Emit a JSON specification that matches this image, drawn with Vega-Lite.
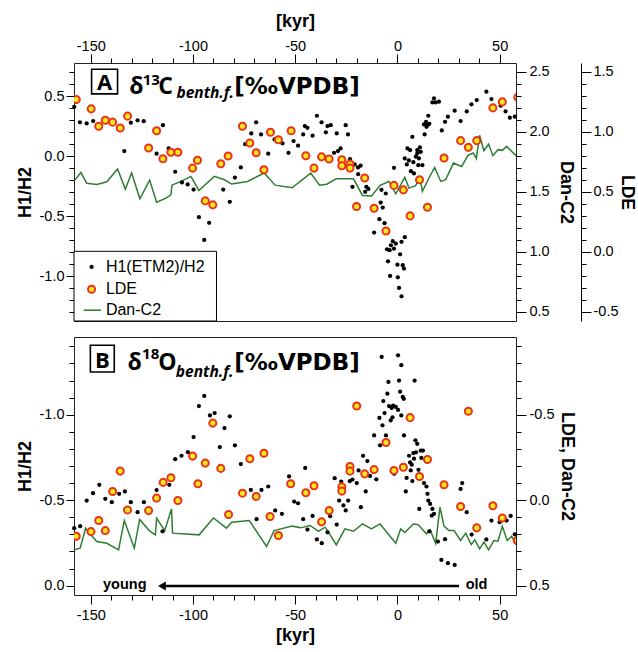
{
"$schema": "https://vega.github.io/schema/vega-lite/v6.json",
"padding": {"left": 15, "top": 11, "right": 0, "bottom": 0},
"background": "white",
"config": {
  "view": {"stroke": "#222", "strokeWidth": 1},
  "font": "Liberation Sans",
  "axis": {"domain": false, "grid": false, "tickColor": "#000", "tickWidth": 1, "labelFont": "Liberation Sans", "labelFontSize": 14.5, "labelColor": "#000", "titleFont": "Liberation Sans", "titleFontSize": 18, "titleFontWeight": "bold", "titleColor": "#000", "labelFlush": false, "labelOverlap": false},
  "locale": {"number": {"decimal": ".", "thousands": ",", "grouping": [3], "currency": ["$", ""], "minus": "-"}}
},
"datasets": {
  "tH1": [
    {"kyr":-158.1,"h1":0.41},{"kyr":-155.3,"h1":0.281},{"kyr":-152,"h1":0.272},{"kyr":-148.8,"h1":0.292},{"kyr":-133.6,"h1":0.042},{"kyr":-130.4,"h1":0.278},{"kyr":-127.1,"h1":0.298},{"kyr":-124.1,"h1":0.291},{"kyr":-117.8,"h1":0.02},{"kyr":-114.7,"h1":0.258},{"kyr":-111.9,"h1":0.064},{"kyr":-108.7,"h1":-0.13},{"kyr":-105.4,"h1":-0.219},{"kyr":-102.6,"h1":-0.236},{"kyr":-99.7,"h1":-0.278},{"kyr":-97.1,"h1":-0.508},{"kyr":-94.5,"h1":-0.697},{"kyr":-92.1,"h1":-0.555},{"kyr":-85.2,"h1":-0.278},{"kyr":-82,"h1":-0.38},{"kyr":-79.5,"h1":-0.178},{"kyr":-76.6,"h1":-0.094},{"kyr":-74.5,"h1":0.1},{"kyr":-71.5,"h1":0.189},{"kyr":-69.1,"h1":0.281},{"kyr":-66.7,"h1":0.181},{"kyr":-63.2,"h1":0.02},{"kyr":-60.1,"h1":0.139},{"kyr":-56.2,"h1":0.106},{"kyr":-53.3,"h1":0.028},
    {"kyr":-50.8,"h1":0.125},{"kyr":-48.6,"h1":0.087},{"kyr":-46.1,"h1":0.181},{"kyr":-45.3,"h1":0.25},{"kyr":-44,"h1":0.236},{"kyr":-41.5,"h1":0.17},{"kyr":-39.4,"h1":0.336},{"kyr":-37.1,"h1":0.281},{"kyr":-35,"h1":0.198},{"kyr":-34.2,"h1":0.25},{"kyr":-32.6,"h1":0.258},{"kyr":-29.7,"h1":0.189},{"kyr":-25.3,"h1":0.258},{"kyr":-24.2,"h1":0.181},{"kyr":-31,"h1":0.028},{"kyr":-29.1,"h1":0.042},{"kyr":-27.8,"h1":0.064},{"kyr":-23.2,"h1":-0.025},{"kyr":-20.9,"h1":-0.069},{"kyr":-19.3,"h1":-0.094},{"kyr":-18,"h1":-0.08},{"kyr":-19.2,"h1":-0.15},{"kyr":-22,"h1":-0.255},{"kyr":-15.2,"h1":-0.255},{"kyr":-14.2,"h1":-0.273},{"kyr":-15.8,"h1":-0.297},{"kyr":-7.8,"h1":-0.28},{"kyr":-5.7,"h1":-0.311},{"kyr":-8.2,"h1":-0.386},{"kyr":-7.2,"h1":-0.428},{"kyr":-8.8,"h1":-0.525},{"kyr":-6.3,"h1":-0.558},{"kyr":-11.4,"h1":-0.636},{"kyr":-1.7,"h1":-0.097},{"kyr":-2.3,"h1":-0.708},{"kyr":-0.8,"h1":-0.728},{"kyr":-3.2,"h1":-0.742},{"kyr":-5.1,"h1":-0.775},{"kyr":-3.8,"h1":-0.783},{"kyr":-1.7,"h1":-0.77},{"kyr":1.3,"h1":-0.817},{"kyr":3.6,"h1":-0.675},{"kyr":2,"h1":-0.713},{"kyr":-4.6,"h1":-0.875},{"kyr":0,"h1":-0.903},{"kyr":2.6,"h1":-0.908},{"kyr":3.2,"h1":-0.936},{"kyr":-3.6,"h1":-0.997},{"kyr":0.2,"h1":-1.008},{"kyr":0.8,"h1":-1.097},{"kyr":2,"h1":-1.167},
    {"kyr":3.6,"h1":-0.019},{"kyr":4.6,"h1":-0.069},{"kyr":5.6,"h1":-0.036},{"kyr":6.6,"h1":-0.125},{"kyr":4.9,"h1":0.064},{"kyr":6.2,"h1":0.05},{"kyr":7.3,"h1":0.161},{"kyr":7.8,"h1":-0.05},{"kyr":9,"h1":-0.005},{"kyr":8.1,"h1":-0.144},{"kyr":9.7,"h1":0.022},{"kyr":11,"h1":0.072},{"kyr":10.5,"h1":-0.019},{"kyr":12.2,"h1":-0.075},{"kyr":10.2,"h1":-0.075},{"kyr":11.4,"h1":0.036},{"kyr":9.7,"h1":0.05},{"kyr":13.3,"h1":0.181},{"kyr":13,"h1":0.264},{"kyr":14,"h1":0.286},{"kyr":14.7,"h1":0.258},{"kyr":15.6,"h1":0.269},{"kyr":14.2,"h1":0.244},{"kyr":15.1,"h1":0.336},{"kyr":17.1,"h1":0.447},{"kyr":17.9,"h1":0.481},{"kyr":18.7,"h1":0.447},{"kyr":20.3,"h1":0.453},{"kyr":21.7,"h1":0.214},{"kyr":23.3,"h1":0.286},{"kyr":24.7,"h1":0.328},{"kyr":28,"h1":0.378},{"kyr":30.9,"h1":0.292},{"kyr":33.9,"h1":0.372},{"kyr":36.2,"h1":0.431},{"kyr":38.8,"h1":0.467},{"kyr":43.5,"h1":0.536},{"kyr":46,"h1":0.475},{"kyr":50.5,"h1":0.42},{"kyr":52.9,"h1":0.372},{"kyr":55,"h1":0.32},{"kyr":57.4,"h1":0.328}
  ],
  "tLDE": [
    {"kyr":-157.1,"lde":1.268},{"kyr":-149.8,"lde":1.19},{"kyr":-146.1,"lde":1.045},{"kyr":-142.9,"lde":1.095},{"kyr":-139.3,"lde":1.079},{"kyr":-135.6,"lde":1.031},{"kyr":-132,"lde":1.129},{"kyr":-121.7,"lde":0.864},{"kyr":-117.8,"lde":1.008},{"kyr":-114.7,"lde":0.774},{"kyr":-110.8,"lde":0.828},{"kyr":-107.4,"lde":0.828},{"kyr":-100.2,"lde":0.696},{"kyr":-97.8,"lde":0.761},{"kyr":-94,"lde":0.423},{"kyr":-90.3,"lde":0.39},{"kyr":-86.4,"lde":0.732},{"kyr":-82.8,"lde":0.797},{"kyr":-75.8,"lde":1.045},{"kyr":-72.2,"lde":0.906},{"kyr":-69.1,"lde":0.824},{"kyr":-65.3,"lde":0.682},{"kyr":-62.1,"lde":0.995},{"kyr":-58.2,"lde":0.933},{"kyr":-52,"lde":1.008},{"kyr":-44.8,"lde":0.799},{"kyr":-40.8,"lde":0.696},{"kyr":-37.1,"lde":0.79},{"kyr":-33.4,"lde":0.772},{"kyr":-27.2,"lde":0.766},{"kyr":-27.2,"lde":0.716},{"kyr":-23.2,"lde":0.73},{"kyr":-23.2,"lde":0.696},{"kyr":-20,"lde":0.376},{"kyr":-16,"lde":0.613},{"kyr":-11.4,"lde":0.362},{"kyr":-5.6,"lde":0.172},{"kyr":-1.7,"lde":0.552},{"kyr":2.9,"lde":0.515},{"kyr":6.2,"lde":0.298},{"kyr":10.8,"lde":0.599},{"kyr":14.7,"lde":0.37},{"kyr":22.8,"lde":0.78},{"kyr":30.9,"lde":0.925},{"kyr":34.7,"lde":0.869},{"kyr":38.8,"lde":0.925},{"kyr":46.7,"lde":1.198},{"kyr":51.3,"lde":1.248},{"kyr":58.9,"lde":1.287}
  ],
  "tDan": [
    {"kyr":-158.1,"dan":1.59},{"kyr":-154.8,"dan":1.66},{"kyr":-152,"dan":1.569},{"kyr":-147,"dan":1.56},{"kyr":-142.1,"dan":1.582},{"kyr":-136.9,"dan":1.688},{"kyr":-133.1,"dan":1.521},{"kyr":-130,"dan":1.655},{"kyr":-126,"dan":1.44},{"kyr":-121.2,"dan":1.596},{"kyr":-117.8,"dan":1.412},{"kyr":-113.2,"dan":1.446},{"kyr":-110.8,"dan":1.473},{"kyr":-110.3,"dan":1.554},{"kyr":-105.9,"dan":1.585},{"kyr":-101,"dan":1.627},{"kyr":-97.1,"dan":1.51},{"kyr":-89.6,"dan":1.627},{"kyr":-84.6,"dan":1.599},{"kyr":-81.1,"dan":1.563},{"kyr":-73.3,"dan":1.585},{"kyr":-65.2,"dan":1.655},{"kyr":-59.8,"dan":1.554},{"kyr":-51.5,"dan":1.532},{"kyr":-42.4,"dan":1.654},{"kyr":-38.1,"dan":1.554},{"kyr":-34.6,"dan":1.562},{"kyr":-30,"dan":1.607},{"kyr":-21.5,"dan":1.607},{"kyr":-17.1,"dan":1.468},{"kyr":-12.6,"dan":1.463},{"kyr":-8.5,"dan":1.552},{"kyr":-4.1,"dan":1.585},{"kyr":-0.8,"dan":1.482},{"kyr":3.6,"dan":1.619},{"kyr":5.7,"dan":1.529},{"kyr":8.9,"dan":1.549},{"kyr":11,"dan":1.619},{"kyr":12.2,"dan":1.502},{"kyr":15,"dan":1.599},{"kyr":18.2,"dan":1.702},{"kyr":21.2,"dan":1.585},{"kyr":23.6,"dan":1.599},{"kyr":27.4,"dan":1.738},{"kyr":31.4,"dan":1.71},{"kyr":34.5,"dan":1.803},{"kyr":37.1,"dan":1.822},{"kyr":38.6,"dan":1.775},{"kyr":40.2,"dan":1.97},{"kyr":42.3,"dan":1.841},{"kyr":44.6,"dan":1.897},{"kyr":46.7,"dan":1.8},{"kyr":49.2,"dan":1.85},{"kyr":51.3,"dan":1.844},{"kyr":53.4,"dan":1.877},{"kyr":58,"dan":1.8}
  ],
  "bH1": [
    {"kyr":-158.1,"h1":-0.336},{"kyr":-155.2,"h1":-0.348},{"kyr":-152,"h1":-0.498},{"kyr":-148.9,"h1":-0.541},{"kyr":-145.8,"h1":-0.59},{"kyr":-142.9,"h1":-0.508},{"kyr":-139.7,"h1":-0.488},{"kyr":-136.1,"h1":-0.537},{"kyr":-133.3,"h1":-0.551},{"kyr":-130.4,"h1":-0.488},{"kyr":-127.1,"h1":-0.43},{"kyr":-124,"h1":-0.488},{"kyr":-117.8,"h1":-0.559},{"kyr":-114.9,"h1":-0.318},{"kyr":-111.6,"h1":-0.59},{"kyr":-108.7,"h1":-0.74},{"kyr":-105.6,"h1":-0.76},{"kyr":-102.5,"h1":-0.781},{"kyr":-99.7,"h1":-0.869},{"kyr":-97.1,"h1":-1.051},{"kyr":-94.5,"h1":-1.11},{"kyr":-91.7,"h1":-0.996},{"kyr":-89.4,"h1":-1.01},{"kyr":-86.9,"h1":-0.811},{"kyr":-84.6,"h1":-0.922},{"kyr":-82,"h1":-0.991},{"kyr":-79.5,"h1":-0.821},{"kyr":-76.6,"h1":-0.711},{"kyr":-71.7,"h1":-0.56},{"kyr":-68.9,"h1":-0.389},{"kyr":-66.5,"h1":-0.56},{"kyr":-63.2,"h1":-0.58},{"kyr":-59.8,"h1":-0.44},{"kyr":-56.5,"h1":-0.42},{"kyr":-53,"h1":-0.639},
    {"kyr":-50.5,"h1":-0.492},{"kyr":-48.6,"h1":-0.482},{"kyr":-45.1,"h1":-0.689},{"kyr":-46.1,"h1":-0.389},{"kyr":-44,"h1":-0.328},{"kyr":-41.5,"h1":-0.408},{"kyr":-39.4,"h1":-0.27},{"kyr":-37,"h1":-0.248},{"kyr":-34.2,"h1":-0.312},{"kyr":-32.9,"h1":-0.406},{"kyr":-29.7,"h1":-0.357},{"kyr":-30.7,"h1":-0.629},{"kyr":-28.5,"h1":-0.498},{"kyr":-27.5,"h1":-0.609},{"kyr":-26.4,"h1":-0.469},{"kyr":-25.3,"h1":-0.44},{"kyr":-24.1,"h1":-0.498},{"kyr":-23.3,"h1":-0.611},{"kyr":-22,"h1":-0.621},{"kyr":-19.9,"h1":-0.6},{"kyr":-17.9,"h1":-0.459},{"kyr":-19,"h1":-0.674},{"kyr":-16.8,"h1":-0.76},{"kyr":-14.7,"h1":-0.729},{"kyr":-15.5,"h1":-0.551},{"kyr":-13.4,"h1":-0.642},{"kyr":-10.3,"h1":-0.622},{"kyr":-11.4,"h1":-0.879},{"kyr":-8.5,"h1":-0.821},{"kyr":-8.8,"h1":-0.981},{"kyr":-7.7,"h1":-1.338},{"kyr":-6.9,"h1":-1.08},{"kyr":-6.3,"h1":-1.01},{"kyr":-5.6,"h1":-0.879},{"kyr":-7.3,"h1":-0.938},{"kyr":-4.9,"h1":-1.123},{"kyr":-4.4,"h1":-1.192},{"kyr":-4.1,"h1":-1.051},{"kyr":-3.3,"h1":-0.967},{"kyr":-2.8,"h1":-1.04},{"kyr":-2.1,"h1":-1.054},{"kyr":-0.8,"h1":-1.046},{"kyr":0.3,"h1":-1.028},{"kyr":-2.4,"h1":-0.985},{"kyr":-1.6,"h1":-0.654},{"kyr":0.3,"h1":-1.348},{"kyr":1.9,"h1":-1.29},{"kyr":0.8,"h1":-1.2},{"kyr":1.3,"h1":-1.135},{"kyr":2.6,"h1":-1.104},{"kyr":3.1,"h1":-1.093},{"kyr":1.9,"h1":-0.996},{"kyr":3.2,"h1":-0.879},{"kyr":8.4,"h1":-1.2},{"kyr":4.5,"h1":-0.63},{"kyr":4.1,"h1":-0.551},{"kyr":5.7,"h1":-0.76},{"kyr":6.2,"h1":-0.721},{"kyr":7,"h1":-0.708},{"kyr":6.5,"h1":-0.674},{"kyr":7.8,"h1":-0.776},{"kyr":8.1,"h1":-0.743},{"kyr":8.8,"h1":-0.85},{"kyr":9.7,"h1":-0.83},{"kyr":9.1,"h1":-0.78},{"kyr":7.3,"h1":-0.612},{"kyr":11.4,"h1":-0.79},{"kyr":12.5,"h1":-0.79},{"kyr":11.7,"h1":-0.747},{"kyr":10.3,"h1":-0.678},{"kyr":13,"h1":-0.6},{"kyr":14.2,"h1":-0.58},{"kyr":14.7,"h1":-0.537},{"kyr":15.1,"h1":-0.498},{"kyr":16,"h1":-0.478},{"kyr":10.7,"h1":-0.449},{"kyr":17.1,"h1":-0.449},{"kyr":17.9,"h1":-0.42},{"kyr":16.8,"h1":-0.41},{"kyr":15.6,"h1":-0.318},{"kyr":19.8,"h1":-0.258},{"kyr":23.3,"h1":-0.272},{"kyr":21.5,"h1":-0.15},{"kyr":24.7,"h1":-0.131},{"kyr":28,"h1":-0.121},{"kyr":31.7,"h1":-0.6},{"kyr":30.9,"h1":-0.566},{"kyr":33.9,"h1":-0.43},{"kyr":36.3,"h1":-0.299},{"kyr":43.5,"h1":-0.27},{"kyr":46,"h1":-0.381},{"kyr":50,"h1":-0.371},{"kyr":53.4,"h1":-0.381},{"kyr":55.4,"h1":-0.408},{"kyr":57.4,"h1":-0.3}
  ],
  "bLDE": [
    {"kyr":-157.1,"lde":0.211},{"kyr":-149.9,"lde":0.184},{"kyr":-146.1,"lde":0.119},{"kyr":-142.9,"lde":0.178},{"kyr":-139.3,"lde":-0.051},{"kyr":-135.6,"lde":-0.17},{"kyr":-132,"lde":0.057},{"kyr":-121.7,"lde":0.061},{"kyr":-117.8,"lde":-0.012},{"kyr":-114.6,"lde":-0.104},{"kyr":-110.8,"lde":-0.131},{"kyr":-107.4,"lde":0.002},{"kyr":-100.2,"lde":-0.258},{"kyr":-97.6,"lde":-0.096},{"kyr":-94,"lde":-0.217},{"kyr":-90.3,"lde":-0.451},{"kyr":-86.4,"lde":-0.186},{"kyr":-82.6,"lde":0.084},{"kyr":-75.8,"lde":-0.041},{"kyr":-72.2,"lde":-0.242},{"kyr":-69.1,"lde":-0.022},{"kyr":-65.3,"lde":-0.275},{"kyr":-62.3,"lde":0.096},{"kyr":-58.2,"lde":0.207},{"kyr":-52.2,"lde":-0.096},{"kyr":-44.8,"lde":-0.043},{"kyr":-40.8,"lde":-0.084},{"kyr":-37.1,"lde":0.127},{"kyr":-33.4,"lde":0.061},{"kyr":-27.2,"lde":-0.078},{"kyr":-27.2,"lde":-0.053},{"kyr":-23.2,"lde":-0.197},{"kyr":-23.2,"lde":-0.17},{"kyr":-19.9,"lde":-0.551},{"kyr":-16,"lde":-0.154},{"kyr":-11.4,"lde":-0.179},{"kyr":-5.6,"lde":-0.338},{"kyr":-1.7,"lde":-0.174},{"kyr":2.9,"lde":-0.193},{"kyr":6.2,"lde":-0.483},{"kyr":10.8,"lde":-0.139},{"kyr":14.7,"lde":-0.238},{"kyr":22.8,"lde":-0.09},{"kyr":30.9,"lde":0.037},{"kyr":34.7,"lde":-0.52},{"kyr":38.8,"lde":0.162},{"kyr":46.7,"lde":0.033},{"kyr":51.3,"lde":0.104},{"kyr":58.6,"lde":0.236}
  ],
  "bDan": [
    {"kyr":-158.1,"dan":0.291},{"kyr":-155.2,"dan":0.281},{"kyr":-152.5,"dan":0.164},{"kyr":-149.9,"dan":0.203},{"kyr":-147.1,"dan":0.242},{"kyr":-142.1,"dan":0.252},{"kyr":-136.4,"dan":0.291},{"kyr":-133.6,"dan":0.119},{"kyr":-128.7,"dan":0.281},{"kyr":-126.1,"dan":0.113},{"kyr":-121.4,"dan":0.178},{"kyr":-118.4,"dan":0.203},{"kyr":-117.8,"dan":0.106},{"kyr":-113.8,"dan":0.178},{"kyr":-110.5,"dan":0.051},{"kyr":-110,"dan":0.193},{"kyr":-97,"dan":0.203},{"kyr":-90,"dan":0.104},{"kyr":-83.6,"dan":0.164},{"kyr":-81.1,"dan":0.129},{"kyr":-72.5,"dan":0.119},{"kyr":-64,"dan":0.271},{"kyr":-60.3,"dan":0.178},{"kyr":-51.5,"dan":0.152},{"kyr":-47.3,"dan":0.162},{"kyr":-42.7,"dan":0.148},{"kyr":-38.6,"dan":0.182},{"kyr":-35.4,"dan":0.158},{"kyr":-33.4,"dan":0.193},{"kyr":-29.9,"dan":0.262},{"kyr":-25.7,"dan":0.168},{"kyr":-21.5,"dan":0.182},{"kyr":-17.1,"dan":0.139},{"kyr":-12.7,"dan":0.168},{"kyr":-8.5,"dan":0.139},{"kyr":-0.8,"dan":0.252},{"kyr":1.6,"dan":0.168},{"kyr":3.6,"dan":0.189},{"kyr":7.8,"dan":0.139},{"kyr":10.1,"dan":0.143},{"kyr":14.2,"dan":0.197},{"kyr":16,"dan":0.174},{"kyr":18.7,"dan":0.252},{"kyr":20.8,"dan":0.041},{"kyr":22.8,"dan":0.152},{"kyr":25.2,"dan":0.178},{"kyr":27.7,"dan":0.178},{"kyr":30.9,"dan":0.236},{"kyr":33.4,"dan":0.193},{"kyr":36.1,"dan":0.26},{"kyr":37.8,"dan":0.232},{"kyr":40.2,"dan":0.285},{"kyr":42.3,"dan":0.246},{"kyr":44.6,"dan":0.291},{"kyr":47.2,"dan":0.236},{"kyr":49.2,"dan":0.24},{"kyr":51.3,"dan":0.152},{"kyr":53.7,"dan":0.236},{"kyr":55.9,"dan":0.211},{"kyr":58,"dan":0.26}
  ],
  "tLegBox": [{"kyr":-158.2,"kyr2":-88.5,"h1":-0.792,"h1b":-1.372}],
  "tLegTxt": [{"kyr":-142.6,"h1":-0.922,"t":"H1(ETM2)/H2"},{"kyr":-142.6,"h1":-1.108,"t":"LDE"},{"kyr":-142.6,"h1":-1.283,"t":"Dan-C2"}],
  "tLegDot": [{"kyr":-149.6,"h1":-0.922}],
  "tLegLDE": [{"kyr":-149.6,"lde":-0.313}],
  "tLegDan": [{"kyr":-153.5,"dan":0.512},{"kyr":-145.0,"dan":0.512}],
  "tBox": [{"kyr":-149.6,"kyr2":-136.9,"h1":0.7225,"h1b":0.518,"cx":-143.25,"cy":0.548,"t":"A"}],
  "tMain": [{"kyr":-131.2,"h1":0.514,"t":"δ"},{"kyr":-117.0,"h1":0.514,"t":"C"}],
  "tMain2": [{"kyr":-79.8,"h1":0.514,"t":"[‰VPDB]"}],
  "tSup": [{"kyr":-124.6,"h1":0.593,"t":"13"}],
  "tSub": [{"kyr":-108.1,"h1":0.485,"t":"benth.f."}],
  "bBox": [{"kyr":-150.2,"kyr2":-138.5,"h1":-1.407,"h1b":-1.25,"cx":-144.35,"cy":-1.272,"t":"B"}],
  "bMain": [{"kyr":-132.0,"h1":-1.262,"t":"δ"},{"kyr":-117.0,"h1":-1.262,"t":"O"}],
  "bMain2": [{"kyr":-79.8,"h1":-1.262,"t":"[‰VPDB]"}],
  "bSup": [{"kyr":-124.9,"h1":-1.328,"t":"18"}],
  "bSub": [{"kyr":-108.4,"h1":-1.221,"t":"benth.f."}],
  "bArrow": [{"kyr":-114,"kyr2":30.1,"h1":0.002}],
  "bHead": [{"kyr":-115.2,"h1":0.002}],
  "bWords": [{"kyr":-144,"h1":0.022,"t":"young"},{"kyr":33.4,"h1":0.022,"t":"old"}]
},
"resolve": {"scale": {"x": "independent", "y": "independent"}},
"spacing": 14,
"vconcat": [
  {
    "width": 442, "height": 258,
    "resolve": {"scale": {"x": "independent", "y": "independent"}},
    "layer": [
      {"data": {"name": "tDan"}, "mark": {"type": "line", "color": "#2e7d32", "strokeWidth": 1.5, "clip": true},
       "encoding": {
         "x": {"field": "kyr", "type": "quantitative", "scale": {"domain": [-158.2, 58], "nice": false, "zero": false}, "axis": null},
         "y": {"field": "dan", "type": "quantitative", "scale": {"domain": [0.422, 2.572], "nice": false, "zero": false}, "axis": {"orient": "right", "values": [0.5, 1, 1.5, 2, 2.5], "format": ".1f", "title": "Dan-C2", "tickSize": 10, "labelPadding": 3, "titlePadding": 7}}
       }},
      {"data": {"name": "tH1"}, "mark": {"type": "circle", "color": "#000", "size": 18, "opacity": 1},
       "encoding": {
         "x": {"field": "kyr", "type": "quantitative", "scale": {"domain": [-158.2, 58], "nice": false, "zero": false}, "axis": {"orient": "top", "values": [-150, -100, -50, 0, 50], "format": "d", "title": "[kyr]", "tickSize": 9, "labelPadding": 1, "titlePadding": 8}},
         "y": {"field": "h1", "type": "quantitative", "scale": {"domain": [-1.372, 0.775], "nice": false, "zero": false}, "axis": {"orient": "left", "values": [-1, -0.5, 0, 0.5], "format": ".1f", "title": "H1/H2", "tickSize": 8, "labelPadding": 2, "titlePadding": 5}}
       }},
      {"data": {"name": "tLDE"}, "mark": {"type": "circle", "fill": "#ffe71a", "stroke": "#e8331c", "strokeWidth": 2, "size": 50, "opacity": 1, "clip": true},
       "encoding": {
         "x": {"field": "kyr", "type": "quantitative", "scale": {"domain": [-158.2, 58], "nice": false, "zero": false}, "axis": null},
         "y": {"field": "lde", "type": "quantitative", "scale": {"domain": [-0.578, 1.572], "nice": false, "zero": false}, "axis": {"orient": "right", "offset": 65, "domain": true, "domainColor": "#000", "values": [-0.5, 0, 0.5, 1, 1.5], "format": ".1f", "title": "LDE", "tickSize": 10, "labelPadding": 2, "titlePadding": 0, "titleFontSize": 17.5}}
       }},
      {"data": {"name": "tLegBox"}, "mark": {"type": "rect", "fill": "#fff", "stroke": "#000", "strokeWidth": 1},
       "encoding": {
         "x": {"field": "kyr", "type": "quantitative", "scale": {"domain": [-158.2, 58], "nice": false, "zero": false}, "axis": {"orient": "top", "values": [-140, -130, -120, -110, -90, -80, -70, -60, -40, -30, -20, -10, 10, 20, 30, 40], "labels": false, "tickSize": 5, "title": null}},
         "x2": {"field": "kyr2"},
         "y": {"field": "h1", "type": "quantitative", "scale": {"domain": [-1.372, 0.775], "nice": false, "zero": false}, "axis": {"orient": "left", "values": [-1.3, -1.2, -1.1, -0.9, -0.8, -0.7, -0.6, -0.4, -0.3, -0.2, -0.1, 0.1, 0.2, 0.3, 0.4, 0.6, 0.7], "labels": false, "tickSize": 5, "title": null}},
         "y2": {"field": "h1b"}
       }},
      {"data": {"name": "tLegDot"}, "mark": {"type": "circle", "color": "#000", "size": 18, "opacity": 1},
       "encoding": {
         "x": {"field": "kyr", "type": "quantitative", "scale": {"domain": [-158.2, 58], "nice": false, "zero": false}, "axis": null},
         "y": {"field": "h1", "type": "quantitative", "scale": {"domain": [-1.372, 0.775], "nice": false, "zero": false}, "axis": null}
       }},
      {"data": {"name": "tLegLDE"}, "mark": {"type": "circle", "fill": "#ffe71a", "stroke": "#e8331c", "strokeWidth": 2, "size": 50, "opacity": 1},
       "encoding": {
         "x": {"field": "kyr", "type": "quantitative", "scale": {"domain": [-158.2, 58], "nice": false, "zero": false}, "axis": null},
         "y": {"field": "lde", "type": "quantitative", "scale": {"domain": [-0.578, 1.572], "nice": false, "zero": false}, "axis": {"orient": "right", "offset": 65, "values": [-0.4, -0.3, -0.2, -0.1, 0.1, 0.2, 0.3, 0.4, 0.6, 0.7, 0.8, 0.9, 1.1, 1.2, 1.3, 1.4], "labels": false, "tickSize": 5, "title": null}}
       }},
      {"data": {"name": "tLegDan"}, "mark": {"type": "line", "color": "#2e7d32", "strokeWidth": 1.5},
       "encoding": {
         "x": {"field": "kyr", "type": "quantitative", "scale": {"domain": [-158.2, 58], "nice": false, "zero": false}, "axis": null},
         "y": {"field": "dan", "type": "quantitative", "scale": {"domain": [0.422, 2.572], "nice": false, "zero": false}, "axis": {"orient": "right", "values": [0.6, 0.7, 0.8, 0.9, 1.1, 1.2, 1.3, 1.4, 1.6, 1.7, 1.8, 1.9, 2.1, 2.2, 2.3, 2.4], "labels": false, "tickSize": 5, "title": null}}
       }},
      {"data": {"name": "tLegTxt"}, "mark": {"type": "text", "align": "left", "baseline": "middle", "font": "Liberation Sans", "fontSize": 16, "color": "#000"},
       "encoding": {
         "x": {"field": "kyr", "type": "quantitative", "scale": {"domain": [-158.2, 58], "nice": false, "zero": false}, "axis": null},
         "y": {"field": "h1", "type": "quantitative", "scale": {"domain": [-1.372, 0.775], "nice": false, "zero": false}, "axis": null},
         "text": {"field": "t"}
       }},
      {"data": {"name": "tBox"}, "mark": {"type": "rect", "filled": false, "color": "#000", "strokeWidth": 1.6},
       "encoding": {
         "x": {"field": "kyr", "type": "quantitative", "scale": {"domain": [-158.2, 58], "nice": false, "zero": false}, "axis": null},
         "x2": {"field": "kyr2"},
         "y": {"field": "h1", "type": "quantitative", "scale": {"domain": [-1.372, 0.775], "nice": false, "zero": false}, "axis": null},
         "y2": {"field": "h1b"}
       }},
      {"data": {"name": "tBox"}, "mark": {"type": "text", "align": "center", "baseline": "alphabetic", "font": "Open Sans", "fontWeight": "bold", "fontSize": 22, "color": "#000"},
       "encoding": {
         "x": {"field": "cx", "type": "quantitative", "scale": {"domain": [-158.2, 58], "nice": false, "zero": false}, "axis": null},
         "y": {"field": "cy", "type": "quantitative", "scale": {"domain": [-1.372, 0.775], "nice": false, "zero": false}, "axis": null},
         "text": {"field": "t"}
       }},
      {"data": {"name": "tMain"}, "mark": {"type": "text", "align": "left", "baseline": "alphabetic", "font": "Open Sans", "fontWeight": "bold", "fontSize": 23, "color": "#000"},
       "encoding": {
         "x": {"field": "kyr", "type": "quantitative", "scale": {"domain": [-158.2, 58], "nice": false, "zero": false}, "axis": null},
         "y": {"field": "h1", "type": "quantitative", "scale": {"domain": [-1.372, 0.775], "nice": false, "zero": false}, "axis": null},
         "text": {"field": "t"}
       }},
      {"data": {"name": "tMain2"}, "mark": {"type": "text", "align": "left", "baseline": "alphabetic", "font": "DejaVu Sans", "fontWeight": "bold", "fontSize": 23, "color": "#000"},
       "encoding": {
         "x": {"field": "kyr", "type": "quantitative", "scale": {"domain": [-158.2, 58], "nice": false, "zero": false}, "axis": null},
         "y": {"field": "h1", "type": "quantitative", "scale": {"domain": [-1.372, 0.775], "nice": false, "zero": false}, "axis": null},
         "text": {"field": "t"}
       }},
      {"data": {"name": "tSup"}, "mark": {"type": "text", "align": "left", "baseline": "alphabetic", "font": "Open Sans", "fontWeight": "bold", "fontSize": 15, "color": "#000"},
       "encoding": {
         "x": {"field": "kyr", "type": "quantitative", "scale": {"domain": [-158.2, 58], "nice": false, "zero": false}, "axis": null},
         "y": {"field": "h1", "type": "quantitative", "scale": {"domain": [-1.372, 0.775], "nice": false, "zero": false}, "axis": null},
         "text": {"field": "t"}
       }},
      {"data": {"name": "tSub"}, "mark": {"type": "text", "align": "left", "baseline": "alphabetic", "font": "Open Sans", "fontWeight": "bold", "fontStyle": "italic", "fontSize": 15.5, "color": "#000"},
       "encoding": {
         "x": {"field": "kyr", "type": "quantitative", "scale": {"domain": [-158.2, 58], "nice": false, "zero": false}, "axis": null},
         "y": {"field": "h1", "type": "quantitative", "scale": {"domain": [-1.372, 0.775], "nice": false, "zero": false}, "axis": null},
         "text": {"field": "t"}
       }}
    ]
  },
  {
    "width": 442, "height": 258,
    "resolve": {"scale": {"x": "independent", "y": "independent"}},
    "layer": [
      {"data": {"name": "bDan"}, "mark": {"type": "line", "color": "#2e7d32", "strokeWidth": 1.5, "clip": true},
       "encoding": {
         "x": {"field": "kyr", "type": "quantitative", "scale": {"domain": [-158.2, 58], "nice": false, "zero": false}, "axis": null},
         "y": {"field": "dan", "type": "quantitative", "scale": {"domain": [-0.955, 0.555], "reverse": true, "nice": false, "zero": false}, "axis": {"orient": "right", "values": [-0.9, -0.8, -0.7, -0.6, -0.4, -0.3, -0.2, -0.1, 0.1, 0.2, 0.3, 0.4], "labels": false, "tickSize": 5, "title": null}}
       }},
      {"data": {"name": "bH1"}, "mark": {"type": "circle", "color": "#000", "size": 18, "opacity": 1},
       "encoding": {
         "x": {"field": "kyr", "type": "quantitative", "scale": {"domain": [-158.2, 58], "nice": false, "zero": false}, "axis": {"orient": "bottom", "values": [-150, -100, -50, 0, 50], "format": "d", "title": "[kyr]", "tickSize": 9, "labelPadding": 4, "titlePadding": 5}},
         "y": {"field": "h1", "type": "quantitative", "scale": {"domain": [-1.455, 0.055], "reverse": true, "nice": false, "zero": false}, "axis": {"orient": "left", "values": [-1, -0.5, 0], "format": ".1f", "title": "H1/H2", "tickSize": 8, "labelPadding": 2, "titlePadding": 5}}
       }},
      {"data": {"name": "bLDE"}, "mark": {"type": "circle", "fill": "#ffe71a", "stroke": "#e8331c", "strokeWidth": 2, "size": 50, "opacity": 1, "clip": true},
       "encoding": {
         "x": {"field": "kyr", "type": "quantitative", "scale": {"domain": [-158.2, 58], "nice": false, "zero": false}, "axis": null},
         "y": {"field": "lde", "type": "quantitative", "scale": {"domain": [-0.955, 0.555], "reverse": true, "nice": false, "zero": false}, "axis": {"orient": "right", "values": [-0.5, 0, 0.5], "format": ".1f", "title": "LDE, Dan-C2", "tickSize": 10, "labelPadding": 3, "titlePadding": 4}}
       }},
      {"data": {"name": "bArrow"}, "mark": {"type": "rule", "color": "#000", "strokeWidth": 2.5},
       "encoding": {
         "x": {"field": "kyr", "type": "quantitative", "scale": {"domain": [-158.2, 58], "nice": false, "zero": false}, "axis": {"orient": "bottom", "values": [-140, -130, -120, -110, -90, -80, -70, -60, -40, -30, -20, -10, 10, 20, 30, 40], "labels": false, "tickSize": 5, "title": null}},
         "x2": {"field": "kyr2"},
         "y": {"field": "h1", "type": "quantitative", "scale": {"domain": [-1.455, 0.055], "reverse": true, "nice": false, "zero": false}, "axis": {"orient": "left", "values": [-1.4, -1.3, -1.2, -1.1, -0.9, -0.8, -0.7, -0.6, -0.4, -0.3, -0.2, -0.1], "labels": false, "tickSize": 5, "title": null}}
       }},
      {"data": {"name": "bHead"}, "mark": {"type": "point", "shape": "triangle-left", "filled": true, "color": "#000", "size": 80, "opacity": 1},
       "encoding": {
         "x": {"field": "kyr", "type": "quantitative", "scale": {"domain": [-158.2, 58], "nice": false, "zero": false}, "axis": null},
         "y": {"field": "h1", "type": "quantitative", "scale": {"domain": [-1.455, 0.055], "reverse": true, "nice": false, "zero": false}, "axis": null}
       }},
      {"data": {"name": "bWords"}, "mark": {"type": "text", "align": "left", "baseline": "alphabetic", "font": "Liberation Sans", "fontWeight": "bold", "fontSize": 14.5, "color": "#000"},
       "encoding": {
         "x": {"field": "kyr", "type": "quantitative", "scale": {"domain": [-158.2, 58], "nice": false, "zero": false}, "axis": null},
         "y": {"field": "h1", "type": "quantitative", "scale": {"domain": [-1.455, 0.055], "reverse": true, "nice": false, "zero": false}, "axis": null},
         "text": {"field": "t"}
       }},
      {"data": {"name": "bBox"}, "mark": {"type": "rect", "filled": false, "color": "#000", "strokeWidth": 1.6},
       "encoding": {
         "x": {"field": "kyr", "type": "quantitative", "scale": {"domain": [-158.2, 58], "nice": false, "zero": false}, "axis": null},
         "x2": {"field": "kyr2"},
         "y": {"field": "h1", "type": "quantitative", "scale": {"domain": [-1.455, 0.055], "reverse": true, "nice": false, "zero": false}, "axis": null},
         "y2": {"field": "h1b"}
       }},
      {"data": {"name": "bBox"}, "mark": {"type": "text", "align": "center", "baseline": "alphabetic", "font": "Open Sans", "fontWeight": "bold", "fontSize": 22, "color": "#000"},
       "encoding": {
         "x": {"field": "cx", "type": "quantitative", "scale": {"domain": [-158.2, 58], "nice": false, "zero": false}, "axis": null},
         "y": {"field": "cy", "type": "quantitative", "scale": {"domain": [-1.455, 0.055], "reverse": true, "nice": false, "zero": false}, "axis": null},
         "text": {"field": "t"}
       }},
      {"data": {"name": "bMain"}, "mark": {"type": "text", "align": "left", "baseline": "alphabetic", "font": "Open Sans", "fontWeight": "bold", "fontSize": 23, "color": "#000"},
       "encoding": {
         "x": {"field": "kyr", "type": "quantitative", "scale": {"domain": [-158.2, 58], "nice": false, "zero": false}, "axis": null},
         "y": {"field": "h1", "type": "quantitative", "scale": {"domain": [-1.455, 0.055], "reverse": true, "nice": false, "zero": false}, "axis": null},
         "text": {"field": "t"}
       }},
      {"data": {"name": "bMain2"}, "mark": {"type": "text", "align": "left", "baseline": "alphabetic", "font": "DejaVu Sans", "fontWeight": "bold", "fontSize": 23, "color": "#000"},
       "encoding": {
         "x": {"field": "kyr", "type": "quantitative", "scale": {"domain": [-158.2, 58], "nice": false, "zero": false}, "axis": null},
         "y": {"field": "h1", "type": "quantitative", "scale": {"domain": [-1.455, 0.055], "reverse": true, "nice": false, "zero": false}, "axis": null},
         "text": {"field": "t"}
       }},
      {"data": {"name": "bSup"}, "mark": {"type": "text", "align": "left", "baseline": "alphabetic", "font": "Open Sans", "fontWeight": "bold", "fontSize": 15, "color": "#000"},
       "encoding": {
         "x": {"field": "kyr", "type": "quantitative", "scale": {"domain": [-158.2, 58], "nice": false, "zero": false}, "axis": null},
         "y": {"field": "h1", "type": "quantitative", "scale": {"domain": [-1.455, 0.055], "reverse": true, "nice": false, "zero": false}, "axis": null},
         "text": {"field": "t"}
       }},
      {"data": {"name": "bSub"}, "mark": {"type": "text", "align": "left", "baseline": "alphabetic", "font": "Open Sans", "fontWeight": "bold", "fontStyle": "italic", "fontSize": 15.5, "color": "#000"},
       "encoding": {
         "x": {"field": "kyr", "type": "quantitative", "scale": {"domain": [-158.2, 58], "nice": false, "zero": false}, "axis": null},
         "y": {"field": "h1", "type": "quantitative", "scale": {"domain": [-1.455, 0.055], "reverse": true, "nice": false, "zero": false}, "axis": null},
         "text": {"field": "t"}
       }}
    ]
  }
]
}
